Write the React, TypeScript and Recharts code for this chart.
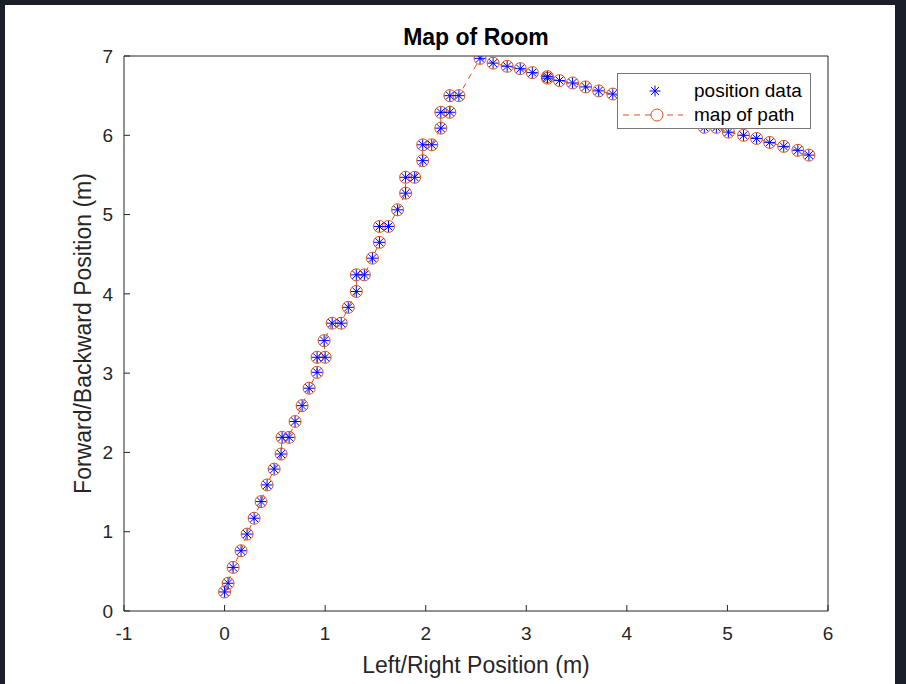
import React from "react";
import { ScatterChart, Scatter, XAxis, YAxis, Legend } from "recharts";

// path samples (m)
const posX = [
  0.0, 0.035, 0.085, 0.164, 0.224, 0.294, 0.363, 0.423, 0.493, 0.562,
  0.572, 0.642, 0.701, 0.771, 0.841, 0.92, 0.92, 1.0, 0.99, 1.07,
  1.16, 1.23, 1.31, 1.31, 1.39, 1.47, 1.54, 1.54, 1.63, 1.72,
  1.8, 1.8, 1.89, 1.97, 1.97, 2.06, 2.15, 2.15, 2.24, 2.24,
  2.33, 2.54, 2.67, 2.81, 2.94, 3.06, 3.21, 3.21, 3.33, 3.46,
  3.59, 3.72, 3.86, 4.77, 4.89, 5.01, 5.16, 5.29, 5.42, 5.56,
  5.7, 5.81,
];
const posY = [
  0.24, 0.35, 0.55, 0.76, 0.97, 1.17, 1.38, 1.59, 1.79, 1.98,
  2.19, 2.19, 2.39, 2.59, 2.81, 3.01, 3.2, 3.2, 3.41, 3.63,
  3.63, 3.83, 4.03, 4.24, 4.24, 4.45, 4.65, 4.85, 4.85, 5.06,
  5.27, 5.47, 5.47, 5.68, 5.88, 5.88, 6.09, 6.29, 6.29, 6.5,
  6.5, 6.97, 6.91, 6.87, 6.84, 6.79, 6.74, 6.72, 6.69, 6.66,
  6.61, 6.56, 6.52, 6.1, 6.1, 6.04, 6.0, 5.96, 5.91, 5.86,
  5.81, 5.75,
];
const xTicks = [-1, 0, 1, 2, 3, 4, 5, 6];
const yTicks = [0, 1, 2, 3, 4, 5, 6, 7];

const data = posX.map((x, i) => ({ x, y: posY[i] }));

const FONT = '"Liberation Sans", Arial, sans-serif';
const INK = "#262626";
const BLUE = "#0000ff";
const ORANGE = "#d95319";

const Star = ({ cx, cy, r = 5.5 }: { cx: number; cy: number; r?: number }) => {
  const d = r * 0.72;
  return (
    <g stroke={BLUE} strokeWidth={1}>
      <line x1={cx - r} y1={cy} x2={cx + r} y2={cy} />
      <line x1={cx} y1={cy - r} x2={cx} y2={cy + r} />
      <line x1={cx - d} y1={cy - d} x2={cx + d} y2={cy + d} />
      <line x1={cx - d} y1={cy + d} x2={cx + d} y2={cy - d} />
    </g>
  );
};

const Ring = ({ cx, cy }: { cx: number; cy: number }) => (
  <circle cx={cx} cy={cy} r={6} fill="none" stroke={ORANGE} strokeWidth={1} />
);

const LegendBox = () => (
  <div
    style={{
      position: "relative",
      width: 192,
      height: 54,
      border: "1px solid #777",
      background: "#fff",
      fontFamily: FONT,
      fontSize: 19,
      color: "#000",
      lineHeight: "20px",
    }}
  >
    <svg width={192} height={54} style={{ position: "absolute", left: 0, top: 0 }}>
      <Star cx={37} cy={17} />
      <line x1={5} y1={41} x2={65} y2={41} stroke={ORANGE} strokeDasharray="6 5" />
      <circle cx={39} cy={41} r={6} fill="#fff" stroke={ORANGE} />
    </svg>
    <div style={{ position: "absolute", left: 76, top: 7 }}>position data</div>
    <div style={{ position: "absolute", left: 76, top: 31 }}>map of path</div>
  </div>
);

const YTitle = (props: any) => {
  const vb = props.viewBox || { x: 0, y: 56, width: 124, height: 555 };
  const cx = vb.x + 91;
  const cy = vb.y + vb.height / 2;
  return (
    <text x={cx} y={cy} transform={`rotate(-90 ${cx} ${cy})`} textAnchor="middle" fontSize={23} fill={INK}>
      Forward/Backward Position (m)
    </text>
  );
};

export default function App() {
  return (
    <div style={{ position: "absolute", left: 0, top: 0, width: 906, height: 684, background: "#1b1f2a", overflow: "hidden" }}>
      <div style={{ position: "absolute", left: 5, top: 5, width: 890, height: 679, background: "#fff" }} />
      <div style={{ position: "absolute", left: 0, top: 0, fontFamily: FONT }}>
        <ScatterChart width={906} height={684} margin={{ top: 55, right: 77, bottom: 0, left: 0 }}>
          <XAxis
            type="number"
            dataKey="x"
            domain={[-1, 6]}
            ticks={xTicks}
            interval={0}
            allowDataOverflow
            height={73}
            tickSize={-6}
            tickMargin={22}
            axisLine={{ stroke: INK }}
            tickLine={{ stroke: INK }}
            tick={{ fill: INK, fontSize: 19 }}
            label={{ value: "Left/Right Position (m)", position: "insideBottom", offset: 11, fill: INK, fontSize: 23 }}
          />
          <XAxis
            xAxisId="top"
            orientation="top"
            type="number"
            dataKey="x"
            domain={[-1, 6]}
            ticks={xTicks}
            interval={0}
            allowDataOverflow
            height={1}
            tickSize={-6}
            axisLine={{ stroke: INK }}
            tickLine={{ stroke: INK }}
            tick={false}
            label={{ value: "Map of Room", position: "top", offset: 10, fill: "#000", fontSize: 23, fontWeight: "bold" }}
          />
          <YAxis
            type="number"
            dataKey="y"
            domain={[0, 7]}
            ticks={yTicks}
            interval={0}
            allowDataOverflow
            width={124}
            tickSize={-6}
            tickMargin={17}
            axisLine={{ stroke: INK }}
            tickLine={{ stroke: INK }}
            tick={{ fill: INK, fontSize: 19 }}
            label={{ content: YTitle }}
          />
          <YAxis
            yAxisId="right"
            orientation="right"
            type="number"
            dataKey="y"
            domain={[0, 7]}
            ticks={yTicks}
            interval={0}
            allowDataOverflow
            width={1}
            tickSize={-6}
            axisLine={{ stroke: INK }}
            tickLine={{ stroke: INK }}
            tick={false}
          />
          <Scatter
            name="map of path"
            data={data}
            xAxisId="top"
            yAxisId="right"
            line={{ stroke: ORANGE, strokeDasharray: "6 5", strokeWidth: 1 }}
            lineType="joint"
            shape={(p: any) => <Ring cx={p.cx} cy={p.cy} />}
            isAnimationActive={false}
          />
          <Scatter
            name="position data"
            data={data}
            shape={(p: any) => <Star cx={p.cx} cy={p.cy} />}
            isAnimationActive={false}
          />
          <Legend
            layout="horizontal"
            align="center"
            verticalAlign="middle"
            content={() => <LegendBox />}
            wrapperStyle={{ top: 73, left: 617, width: 194, height: 56 }}
          />
        </ScatterChart>
      </div>
    </div>
  );
}
